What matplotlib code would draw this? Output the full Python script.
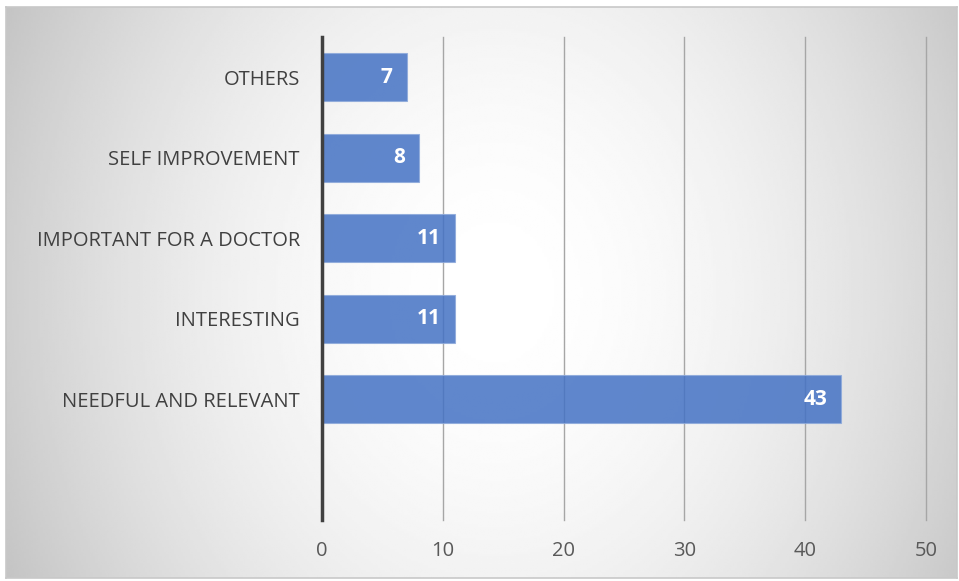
import matplotlib.pyplot as plt
import numpy as np

categories = ["", "NEEDFUL AND RELEVANT", "INTERESTING", "IMPORTANT FOR A DOCTOR",
              "SELF IMPROVEMENT", "OTHERS"]
values = [0, 43, 11, 11, 8, 7]
xticks = [0, 10, 20, 30, 40, 50]

plt.rcParams['font.family'] = ['Open Sans', 'DejaVu Sans']

W, H = 959, 581
fig = plt.figure(figsize=(W / 100, H / 100), dpi=100)
fig.patch.set_facecolor('white')

# radial gradient background inside the chart frame
fx0, fy0, fx1, fy1 = 6, 7, 957, 578
bg = fig.add_axes([fx0 / W, 1 - fy1 / H, (fx1 - fx0) / W, (fy1 - fy0) / H], zorder=0)
gx, gy = np.meshgrid(np.linspace(-1, 1, 400), np.linspace(-1, 1, 250))
r = np.sqrt((gx - 0.03) ** 2 + (0.5 * gy) ** 2)
shade = np.clip(1 - 0.18 * r ** 1.85, 0, 1)
bg.imshow(shade, cmap='gray', vmin=0, vmax=1, aspect='auto', extent=[0, 1, 0, 1],
          interpolation='bilinear')
bg.set_xticks([])
bg.set_yticks([])
for s in bg.spines.values():
    s.set_color('#c8c8c8')
    s.set_linewidth(1.2)

# main plot
px0, py0, px1, py1 = 322, 37, 926, 520
ax = fig.add_axes([px0 / W, 1 - py1 / H, (px1 - px0) / W, (py1 - py0) / H], zorder=1)
ax.patch.set_alpha(0)
y = np.arange(len(categories))
bars = ax.barh(y, values, height=0.6, color='#4472c4', alpha=0.85,
               edgecolor='#8eaadb', linewidth=0.8, zorder=3)
ax.set_xlim(0, 50)
ax.set_ylim(-0.5, len(categories) - 0.5)
ax.set_xticks(xticks)
ax.set_yticks(y[1:])
ax.set_yticklabels(categories[1:])
ax.tick_params(axis='both', length=0, labelsize=14.5, colors='#404040')
ax.tick_params(axis='y', pad=16)
ax.tick_params(axis='x', pad=15, labelcolor='#595959')
ax.grid(axis='x', color='#a6a6a6', linewidth=1, zorder=1)
for gl in ax.get_xgridlines():
    gl.set_clip_on(False)
for s in ['top', 'right', 'bottom']:
    ax.spines[s].set_visible(False)
ax.spines['left'].set_color('#404040')
ax.spines['left'].set_linewidth(2.5)
ax.spines['left'].set_zorder(4)

for yi, v in zip(y, values):
    if v > 0:
        ax.annotate(str(v), (v, yi), xytext=(-10, 0), textcoords='offset points',
                    ha='right', va='center', color='white', fontsize=15,
                    fontweight='bold', zorder=5)

fig.savefig('out.png', dpi=100, facecolor='white')
